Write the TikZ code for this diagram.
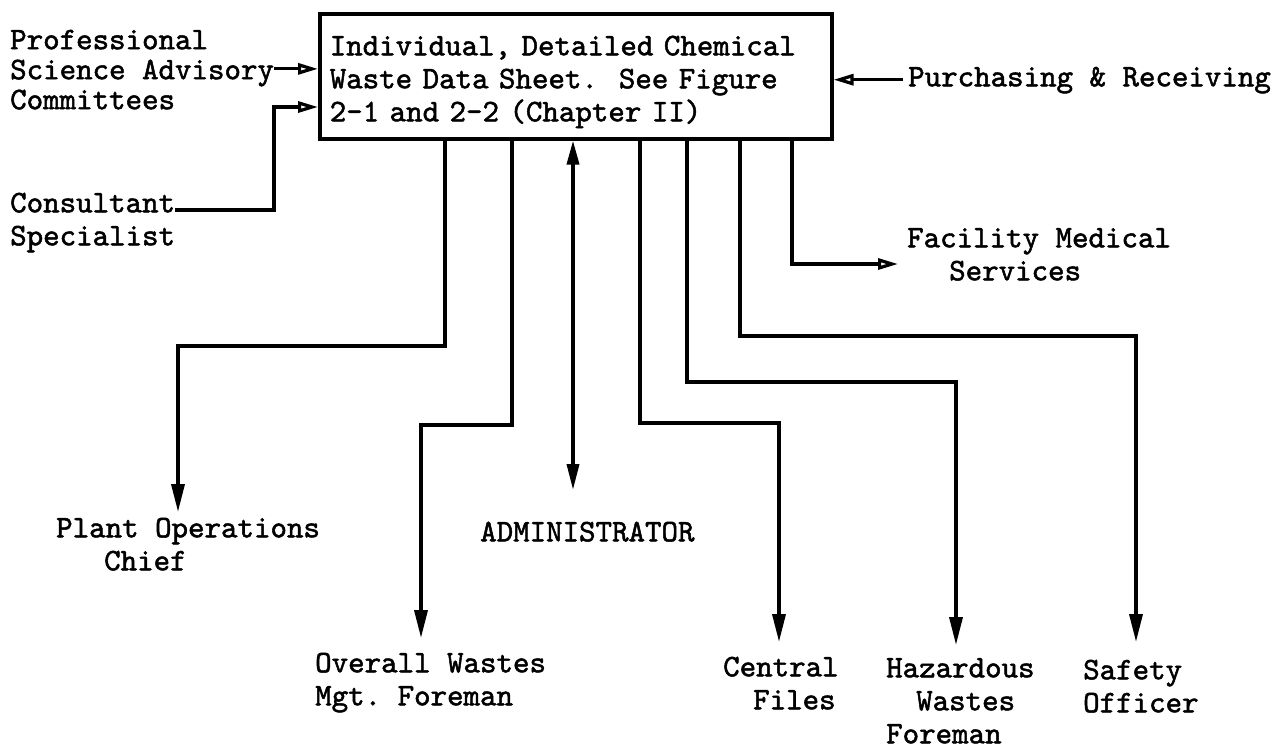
\documentclass[tikz,border=0pt]{standalone}
\usepackage{fontspec}
\setmainfont{lmmono10-regular.otf}[FakeBold=1.6]
\usetikzlibrary{arrows.meta,calc}
\newcommand\twfont{\fontsize{31.4}{33}\selectfont\frenchspacing}
\newcommand\twtight{\fontsize{31.4}{30}\selectfont\frenchspacing}
\tikzset{
  lbl/.style={font=\twfont, inner sep=0pt, anchor=north west, align=left},
  wire/.style={line width=3.5pt, line join=miter},
  down/.style={wire, -{Triangle[length=28pt,width=13pt]}},
  adm/.style={wire, {Triangle[length=24pt,width=12pt]}-{Triangle[length=26pt,width=12pt]}},
  side/.style={line width=3.2pt, line join=miter, -{Triangle[open,length=20pt,width=11pt]}},
  sheetbox/.style={draw, line width=3.5pt, anchor=north west, minimum width=512pt,
    minimum height=125pt, inner xsep=10pt, inner ysep=0pt, text width=492pt,
    align=left, font=\twfont}
}
\begin{document}
\begin{tikzpicture}[x=1pt,y=-1pt]
\useasboundingbox (0,0) rectangle (1283,750);

% central data sheet
\node[sheetbox] (sheet) at (318,12) {\rule{0pt}{31pt}Individual, Detailed Chemical\\Waste Data Sheet.\ \ See Figure\\2-1 and 2-2 (Chapter II)};

% labels
\node[lbl, font=\twtight] (prof) at (10,28) {\strut Professional\\Science Advisory\\Committees};
\node[lbl] (cons) at (10,189) {\strut Consultant\\Specialist};
\node[lbl] (purch) at (908,63) {\strut Purchasing \& Receiving};
\node[lbl] (facil) at (907,224) {\strut Facility Medical\\\hspace*{42pt}Services};
\node[lbl] (plant) at (56,514) {\strut Plant Operations\\\hspace*{48pt}Chief};
\node[lbl] (admin) at (480,518) {\strut ADMINISTRATOR};
\node[lbl] (overall) at (315,649) {\strut Overall Wastes\\Mgt. Foreman};
\node[lbl] (central) at (723,653) {\strut Central\\\hspace*{30pt}Files};
\node[lbl] (hazard) at (886,654) {\strut Hazardous\\\hspace*{30pt}Wastes\\Foreman};
\node[lbl] (safety) at (1083,656) {\strut Safety\\Officer};

% bend coordinates
\coordinate (b1) at (445,346); \coordinate (k1) at (178,346);
\coordinate (b2) at (512,425); \coordinate (k2) at (421,425);
\coordinate (b3) at (573,0);
\coordinate (b4) at (640,423); \coordinate (k4) at (779,423);
\coordinate (b5) at (687,382); \coordinate (k5) at (956,382);
\coordinate (b6) at (740,336); \coordinate (k6) at (1136,336);
\coordinate (b7) at (792,264);
\coordinate (k8) at (274,210); \coordinate (k9) at (274,107);

% inputs
\draw[side] (prof.east) -- (sheet.west |- prof.east);
\draw[side] (cons.east |- k8) -- (k8) -- (k9) -- (sheet.west |- k9);
\draw[side, shorten <=5pt] (purch.west) -- (sheet.east |- purch.west);

% outputs
\draw[down, shorten >=2pt] (sheet.south -| b1) |- (k1) -- (k1 |- plant.north);
\draw[down, shorten >=11pt] (sheet.south -| b2) |- (k2) -- (k2 |- overall.north);
\draw[adm, shorten >=28pt] (sheet.south -| b3) -- (b3 |- admin.north);
\draw[down, shorten >=11pt] (sheet.south -| b4) |- (k4) -- (k4 |- central.north);
\draw[down, shorten >=9pt] (sheet.south -| b5) |- (k5) -- (k5 |- hazard.north);
\draw[down, shorten >=14pt] (sheet.south -| b6) |- (k6) -- (k6 |- safety.north);
\draw[side, shorten >=9pt] (sheet.south -| b7) |- (facil.west |- b7);
\end{tikzpicture}
\end{document}
